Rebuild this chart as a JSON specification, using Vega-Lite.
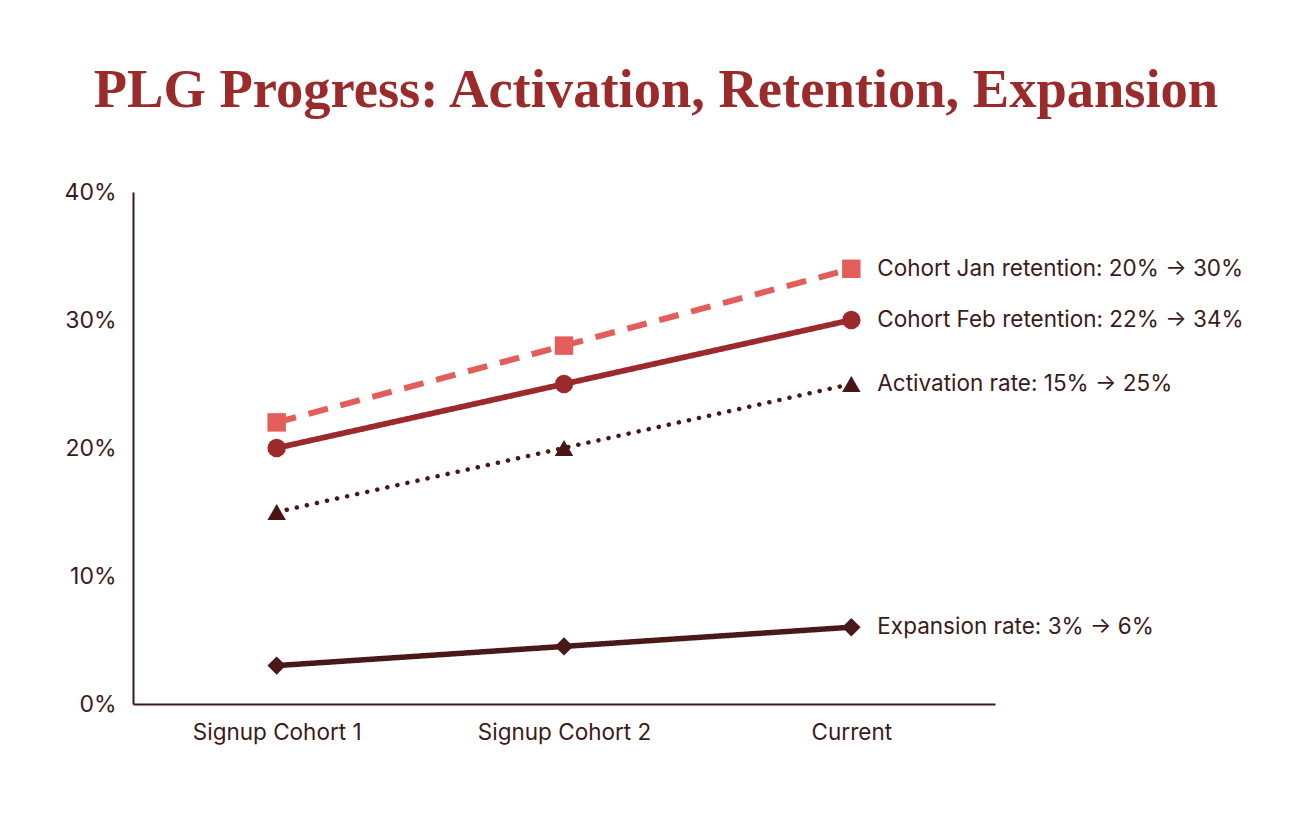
{
  "$schema": "https://vega.github.io/schema/vega-lite/v6.json",
  "width": 862,
  "height": 512,
  "autosize": {"type": "none"},
  "padding": {"left": 133, "top": 192, "right": 317, "bottom": 112},
  "background": "#ffffff",
  "title": {
    "text": "PLG Progress: Activation, Retention, Expansion",
    "font": "Liberation Serif",
    "fontWeight": "bold",
    "fontSize": 54.5,
    "color": "#9b2b2b",
    "anchor": "middle",
    "frame": "group",
    "dx": 92,
    "baseline": "alphabetic",
    "offset": 20
  },
  "config": {
    "view": {"stroke": null},
    "font": "Inter"
  },
  "datasets": {
    "metrics": [
      {"stage": "Signup Cohort 1", "series": "Cohort Jan retention", "value": 22},
      {"stage": "Signup Cohort 2", "series": "Cohort Jan retention", "value": 28},
      {"stage": "Current", "series": "Cohort Jan retention", "value": 34},
      {"stage": "Signup Cohort 1", "series": "Cohort Feb retention", "value": 20},
      {"stage": "Signup Cohort 2", "series": "Cohort Feb retention", "value": 25},
      {"stage": "Current", "series": "Cohort Feb retention", "value": 30},
      {"stage": "Signup Cohort 1", "series": "Activation rate", "value": 15},
      {"stage": "Signup Cohort 2", "series": "Activation rate", "value": 20},
      {"stage": "Current", "series": "Activation rate", "value": 25},
      {"stage": "Signup Cohort 1", "series": "Expansion rate", "value": 3},
      {"stage": "Signup Cohort 2", "series": "Expansion rate", "value": 4.5},
      {"stage": "Current", "series": "Expansion rate", "value": 6}
    ],
    "labels": [
      {"stage": "Current", "value": 34, "label": "Cohort Jan retention: 20% → 30%"},
      {"stage": "Current", "value": 30, "label": "Cohort Feb retention: 22% → 34%"},
      {"stage": "Current", "value": 25, "label": "Activation rate: 15% → 25%"},
      {"stage": "Current", "value": 6, "label": "Expansion rate: 3% → 6%"}
    ]
  },
  "data": {"name": "metrics"},
  "encoding": {
    "x": {
      "field": "stage",
      "type": "nominal",
      "sort": ["Signup Cohort 1", "Signup Cohort 2", "Current"],
      "scale": {"type": "point", "padding": 0.5},
      "axis": {
        "title": null,
        "labelAngle": 0,
        "ticks": false,
        "grid": false,
        "domainColor": "#3b1a1a",
        "domainWidth": 2,
        "labelFontSize": 22.5,
        "labelColor": "#3b1a1a",
        "labelPadding": 17
      }
    },
    "y": {
      "field": "value",
      "type": "quantitative",
      "scale": {"domain": [0, 40]},
      "axis": {
        "title": null,
        "values": [0, 10, 20, 30, 40],
        "labelExpr": "datum.value + '%'",
        "ticks": false,
        "grid": false,
        "domainColor": "#3b1a1a",
        "domainWidth": 2,
        "labelFontSize": 23,
        "labelColor": "#3b1a1a",
        "labelPadding": 17
      }
    }
  },
  "layer": [
    {
      "transform": [{"filter": "datum.series !== 'Activation rate'"}],
      "mark": {"type": "line", "strokeCap": "butt"},
      "encoding": {
        "color": {
          "field": "series",
          "type": "nominal",
          "scale": {
            "domain": ["Cohort Jan retention", "Cohort Feb retention", "Activation rate", "Expansion rate"],
            "range": ["#e35d5b", "#9c2a2c", "#4a1515", "#4a1818"]
          },
          "legend": null
        },
        "strokeDash": {
          "field": "series",
          "type": "nominal",
          "scale": {
            "domain": ["Cohort Jan retention", "Cohort Feb retention", "Expansion rate"],
            "range": [[20, 13], [1, 0], [1, 0]]
          },
          "legend": null
        },
        "strokeWidth": {
          "field": "series",
          "type": "nominal",
          "scale": {
            "domain": ["Cohort Jan retention", "Cohort Feb retention", "Expansion rate"],
            "range": [6, 5.5, 3]
          },
          "legend": null
        }
      }
    },
    {
      "transform": [{"filter": "datum.series === 'Activation rate'"}],
      "mark": {
        "type": "line",
        "color": "#4a1515",
        "strokeWidth": 4.5,
        "strokeCap": "round",
        "strokeDash": [0.1, 10.2]
      },
      "encoding": {}
    },
    {
      "mark": {"type": "point", "filled": true, "opacity": 1},
      "encoding": {
        "color": {
          "field": "series",
          "type": "nominal",
          "scale": {
            "domain": ["Cohort Jan retention", "Cohort Feb retention", "Activation rate", "Expansion rate"],
            "range": ["#e35d5b", "#9c2a2c", "#4a1515", "#4a1818"]
          },
          "legend": null
        },
        "shape": {
          "field": "series",
          "type": "nominal",
          "scale": {
            "domain": ["Cohort Jan retention", "Cohort Feb retention", "Activation rate", "Expansion rate"],
            "range": ["square", "circle", "triangle-up", "diamond"]
          },
          "legend": null
        },
        "size": {
          "field": "series",
          "type": "nominal",
          "scale": {
            "domain": ["Cohort Jan retention", "Cohort Feb retention", "Activation rate", "Expansion rate"],
            "range": [340, 340, 440, 340]
          },
          "legend": null
        }
      }
    },
    {
      "data": {"name": "labels"},
      "mark": {
        "type": "text",
        "align": "left",
        "baseline": "middle",
        "dx": 26,
        "fontSize": 22.5,
        "color": "#3b1a1a"
      },
      "encoding": {
        "text": {"field": "label", "type": "nominal"}
      }
    }
  ]
}
